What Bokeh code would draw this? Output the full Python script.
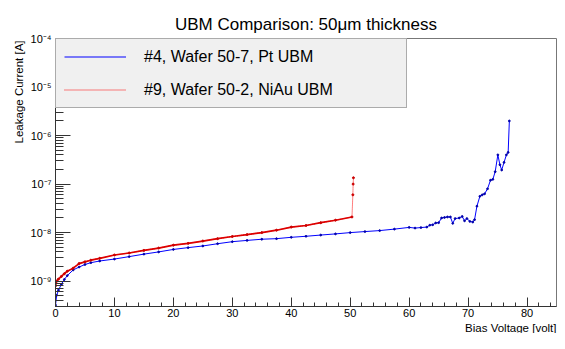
from bokeh.plotting import figure
from bokeh.models import SingleIntervalTicker, LogTicker, CustomJSTickFormatter, Title
from bokeh.embed import file_html
from bokeh.resources import INLINE

# ---- data ----
pt_v = [0, 0.2, 0.5, 1, 1.5, 2, 3, 4, 5, 6, 7.5, 10, 12.5, 15, 17.5, 20, 22.5, 25, 27.5, 30,
        32.5, 35, 37.5, 40, 42.5, 45, 47.5, 50, 52.5, 55, 57.5, 60, 61, 62, 63, 63.5, 64, 64.5,
        65, 65.5, 66, 66.5, 67, 67.4, 67.8, 68.5, 69, 69.4, 69.8, 70.3, 70.8, 71.1, 71.5, 72,
        72.4, 72.8, 73.3, 73.8, 74.2, 74.6, 75.05, 75.4, 75.7, 76.1, 76.5, 76.8, 77.0]
pt_i = [3.2e-10, 5.1e-10, 6.5e-10, 8.6e-10, 1.08e-9, 1.3e-9, 1.7e-9, 1.95e-9, 2.2e-9, 2.4e-9,
        2.6e-9, 2.85e-9, 3.2e-9, 3.6e-9, 4.0e-9, 4.5e-9, 4.9e-9, 5.3e-9, 5.9e-9, 6.5e-9,
        6.9e-9, 7.3e-9, 7.5e-9, 8.0e-9, 8.4e-9, 8.9e-9, 9.4e-9, 1.0e-8, 1.05e-8, 1.1e-8,
        1.18e-8, 1.28e-8, 1.24e-8, 1.27e-8, 1.3e-8, 1.42e-8, 1.45e-8, 1.58e-8, 1.6e-8, 2.0e-8,
        2.05e-8, 2.1e-8, 2.1e-8, 1.55e-8, 1.95e-8, 2.0e-8, 2.15e-8, 1.75e-8, 1.95e-8, 1.7e-8,
        1.65e-8, 1.85e-8, 3.5e-8, 5.6e-8, 6.0e-8, 6.3e-8, 8.0e-8, 1.2e-7, 1.25e-7, 1.8e-7,
        4.0e-7, 2.5e-7, 1.95e-7, 2.8e-7, 4.0e-7, 4.5e-7, 2.0e-6]

niau_v = [0, 0.2, 0.5, 1, 1.5, 2, 3, 4, 5, 6, 7.5, 10, 12.5, 15, 17.5, 20, 22.5, 25, 27.5, 30,
          32.5, 35, 37.5, 40, 42.5, 45, 47.5, 50.3, 50.45, 50.5, 50.55]
niau_i = [8.0e-10, 1.0e-9, 1.1e-9, 1.25e-9, 1.42e-9, 1.6e-9, 1.85e-9, 2.3e-9, 2.5e-9, 2.7e-9,
          2.95e-9, 3.45e-9, 3.8e-9, 4.3e-9, 4.8e-9, 5.5e-9, 6.0e-9, 6.7e-9, 7.5e-9, 8.3e-9,
          9.1e-9, 1.0e-8, 1.12e-8, 1.3e-8, 1.4e-8, 1.6e-8, 1.8e-8, 2.1e-8, 6.0e-8, 1.0e-7, 1.35e-7]
niau_dense = 28  # points before the breakdown jump (drawn densely in the reference)

pt_label = "#4, Wafer 50-7, Pt UBM"
niau_label = "#9, Wafer 50-2, NiAu UBM"
title_text = "UBM Comparison: 50\u03bcm thickness"
x_title = "Bias Voltage [volt]"
y_title = "Leakage Current [A]"

FONT = "Liberation Sans"

p = figure(width=557, height=333, output_backend="svg", toolbar_location=None,
           y_axis_type="log", x_range=(0, 85), y_range=(3e-10, 1e-4),
           min_border_left=55, min_border_right=1, min_border_top=38, min_border_bottom=26,
           background_fill_color="white", border_fill_color="white")

p.line(pt_v, pt_i, line_color="#0000ff", line_width=1, legend_label=pt_label)
p.scatter(pt_v, pt_i, size=1.8, color="#0000aa")
p.line(niau_v, niau_i, line_color="#ff0000", line_width=1, line_dash="1 1", legend_label=niau_label)
p.line(niau_v[:niau_dense], niau_i[:niau_dense], line_color="#dd0000", line_width=1.7)
p.scatter(niau_v, niau_i, size=2, color="#cc0000")

# title
p.title.text = title_text
p.title.align = "center"
p.title.text_font = FONT
p.title.text_font_size = "17px"
p.title.text_font_style = "normal"
p.title.text_color = "black"
p.title.standoff = 10

p.xgrid.visible = False
p.ygrid.visible = False
p.outline_line_color = "#777777"

# x axis
xa = p.xaxis[0]
xa.ticker = SingleIntervalTicker(interval=10, num_minor_ticks=5)
xa.major_tick_in = 9
xa.major_tick_out = 0
xa.minor_tick_in = 4
xa.minor_tick_out = 0
xa.axis_line_color = "#333333"
xa.major_tick_line_color = "#333333"
xa.minor_tick_line_color = "#333333"
xa.major_label_text_font = FONT
xa.major_label_text_font_size = "11px"
xa.major_label_text_color = "black"
xa.major_label_standoff = 2

# y axis
ya = p.yaxis[0]
ya.ticker = LogTicker(desired_num_ticks=6, num_minor_ticks=10)
ya.formatter = CustomJSTickFormatter(code="""
const e = Math.round(Math.log10(tick));
const sup = {"-":"\u207b","0":"\u2070","1":"\u00b9","2":"\u00b2","3":"\u00b3","4":"\u2074",
             "5":"\u2075","6":"\u2076","7":"\u2077","8":"\u2078","9":"\u2079"};
return "10" + String(e).split("").map(c => sup[c]).join("");
""")
ya.major_tick_in = 15
ya.major_tick_out = 0
ya.minor_tick_in = 8
ya.minor_tick_out = 0
ya.axis_line_color = "#333333"
ya.major_tick_line_color = "#333333"
ya.minor_tick_line_color = "#333333"
ya.major_label_text_font = FONT
ya.major_label_text_font_size = "11px"
ya.major_label_text_color = "black"
ya.major_label_standoff = 4

# axis titles (ROOT style: aligned to the far end of each axis)
xt = Title(text=x_title, align="right", text_font=FONT, text_font_size="11.5px",
           text_font_style="normal", text_color="black", standoff=0, offset=0)
p.add_layout(xt, "below")
yt = Title(text=y_title, align="right", text_font=FONT, text_font_size="11.5px",
           text_font_style="normal", text_color="black", standoff=6, offset=2)
p.add_layout(yt, "left")

# legend
lg = p.legend[0]
lg.location = "top_left"
lg.margin = 0
lg.padding = 8
lg.spacing = 14
lg.label_height = 19
lg.glyph_height = 19
lg.glyph_width = 62
lg.label_standoff = 18
lg.label_width = 254
lg.background_fill_color = "#f0f0f0"
lg.background_fill_alpha = 1
lg.border_line_color = "#666666"
lg.border_line_width = 1
lg.label_text_font = FONT
lg.label_text_font_size = "16px"
lg.label_text_color = "black"

open("out.html", "w").write(file_html(p, INLINE))
